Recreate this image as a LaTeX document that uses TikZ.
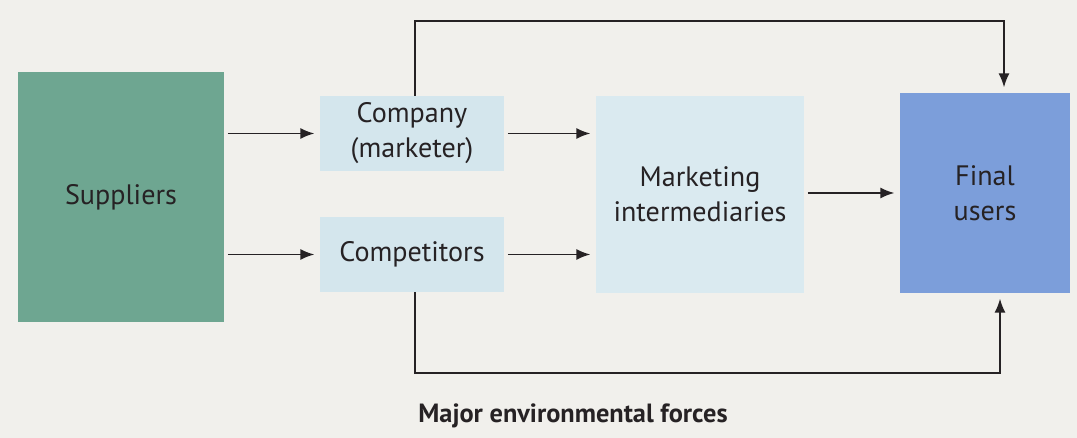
\documentclass[tikz,border=0pt]{standalone}
\usepackage{fontspec}
\setmainfont{PT Sans}
\usepackage{tikz}
\usetikzlibrary{arrows.meta}

\definecolor{paper}{RGB}{241,240,236}
\definecolor{supplygreen}{RGB}{110,166,145}
\definecolor{paleblue}{RGB}{212,230,237}
\definecolor{userblue}{RGB}{124,158,218}
\definecolor{ink}{RGB}{38,34,36}

\begin{document}
\begin{tikzpicture}[x=0.02cm, y=0.02cm, every node/.style={font=\fontsize{16}{20}\selectfont, text=ink}, >={Latex[length=2.8mm, width=2.2mm]},
	box/.style={inner sep=0pt, align=center},
	flow/.style={->, draw=ink, line width=1pt, shorten <=2pt, shorten >=3pt}]
	\fill[paper] (0,0) rectangle (1077,438);
	\node[box, fill=supplygreen, minimum width=4.12cm, minimum height=5cm] (Suppliers) at (121,241) {Suppliers};
	\node[box, fill=paleblue, minimum width=3.68cm, minimum height=1.5cm] (Company) at (412,304.5) {Company\\(marketer)};
	\node[box, fill=paleblue, minimum width=3.68cm, minimum height=1.5cm] (Competitors) at (412,183.5) {Competitors};
	\node[box, fill=paleblue!85!white, minimum width=4.16cm, minimum height=3.94cm] (Intermediaries) at (700,243.5) {Marketing\\intermediaries};
	\node[box, fill=userblue, minimum width=3.4cm, minimum height=4cm] (Users) at (985,245) {Final\\users};
	\draw[flow] (Suppliers.east |- Company) -- (Company);
	\draw[flow] (Suppliers.east |- Competitors) -- (Competitors);
	\draw[flow] (Company) -- (Intermediaries.west |- Company);
	\draw[flow] (Competitors) -- (Intermediaries.west |- Competitors);
	\draw[flow] (Intermediaries.east |- Users) -- (Users);
	\draw[flow, shorten <=0pt] ([xshift=0.06cm]Company.north) -- ++(0,75) -| ([xshift=0.38cm]Users.north);
	\draw[flow, shorten <=0pt] ([xshift=0.06cm]Competitors.south) -- ++(0,-81) -| ([xshift=0.3cm]Users.south);
	\node[font=\fontsize{15}{18}\selectfont\bfseries] (Title) at (573,22) {Major environmental forces};
\end{tikzpicture}
\end{document}
